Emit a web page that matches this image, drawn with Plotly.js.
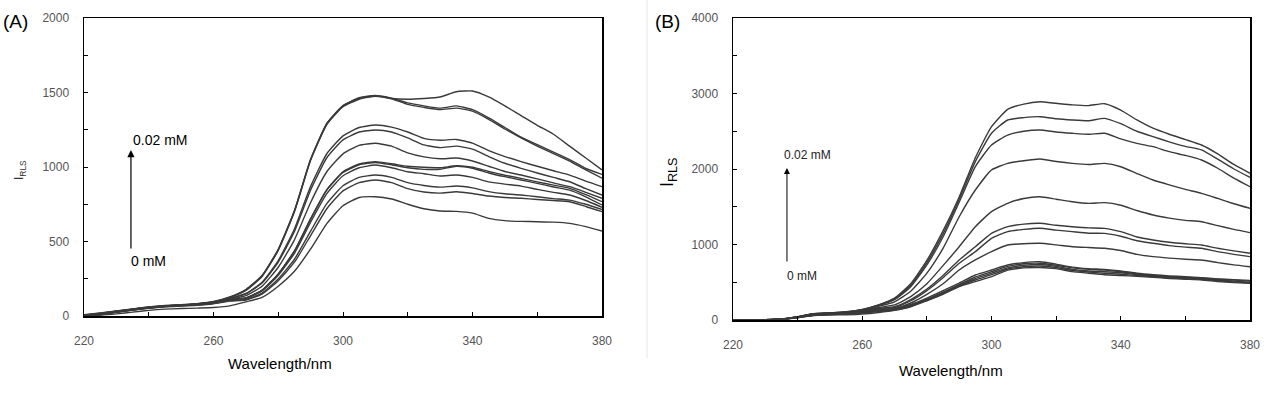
<!DOCTYPE html>
<html><head><meta charset="utf-8">
<script src="https://cdn.plot.ly/plotly-3.0.1.min.js"></script>
<style>html,body{margin:0;padding:0;background:#fff}#chart{width:1272px;height:393px}</style>
</head><body><div id="chart"></div>
<script>
// wavelength grid (nm)
const wavelength = [220,225,230,235,240,245,250,255,260,265,270,275,280,285,290,295,300,305,310,315,320,325,330,335,340,345,350,355,360,365,370,375,380];

// Panel A curves (I_RLS)
const A1  = [3,12,25,40,55,65,72,80,95,125,175,270,445,705,1050,1290,1410,1465,1480,1460,1455,1460,1470,1505,1510,1470,1410,1345,1280,1220,1140,1060,980];
const A2  = [3,13,27,42,56,66,73,82,97,128,178,272,448,708,1052,1292,1412,1460,1478,1462,1430,1410,1395,1410,1385,1330,1265,1200,1150,1100,1050,990,950];
const A3  = [2,12,26,40,54,64,71,79,94,124,172,265,440,700,1045,1285,1405,1455,1475,1458,1420,1400,1385,1395,1375,1320,1255,1195,1140,1090,1040,980,925];
const A4  = [5,15,30,45,58,68,74,80,92,118,151,227,372,584,870,1089,1209,1265,1282,1268,1235,1192,1180,1185,1160,1110,1070,1036,1005,975,946,905,868];
const A5  = [6,17,32,46,60,69,75,81,93,117,148,221,362,567,846,1062,1182,1235,1248,1235,1195,1148,1130,1140,1120,1070,1025,991,960,930,901,855,812];
const A6  = [4,14,28,43,56,66,72,78,90,113,137,200,327,511,762,968,1088,1145,1159,1140,1095,1068,1055,1060,1040,1005,970,946,920,893,868,830,790];
const A7  = [8,20,34,48,60,70,76,82,94,112,122,174,283,438,654,848,968,1020,1036,1022,1005,998,995,1008,998,970,945,924,900,878,857,815,767];
const A8  = [6,18,32,46,58,68,74,80,91,110,121,172,281,435,650,845,963,1015,1030,1015,995,984,985,1005,992,960,935,913,890,866,845,800,745];
const A9  = [5,16,30,44,56,66,72,78,89,108,119,168,273,421,630,821,941,995,1013,995,968,955,940,946,930,900,885,872,850,830,812,775,730];
const A10 = [4,14,28,42,54,63,69,75,85,103,111,154,249,381,570,754,874,930,946,930,895,876,865,872,860,835,820,812,800,788,778,750,715];
const A11 = [3,12,26,40,52,61,67,72,82,100,107,147,237,361,540,720,840,895,913,895,855,832,825,834,822,805,795,790,782,775,767,735,700];
const A12 = [0,5,14,26,38,46,50,53,57,68,95,125,200,300,450,620,740,795,800,785,750,720,705,702,690,655,640,635,633,630,622,600,570];

// Panel B curves (I_RLS)
const B1  = [0,2,5,12,45,85,95,110,140,200,290,480,790,1180,1630,2150,2560,2790,2860,2890,2870,2850,2840,2865,2780,2650,2540,2460,2390,2318,2200,2060,1943];
const B2  = [0,2,5,12,44,84,94,108,137,196,280,460,760,1140,1600,2097,2473,2649,2680,2693,2665,2649,2640,2671,2600,2500,2428,2360,2300,2252,2130,2000,1890];
const B3  = [0,2,5,12,43,82,92,106,134,192,270,440,730,1100,1560,2031,2318,2450,2500,2517,2490,2473,2460,2473,2400,2340,2296,2230,2180,2119,2010,1880,1766];
const B4  = [0,2,5,11,42,80,90,103,128,180,240,380,620,950,1368,1722,1987,2075,2110,2132,2100,2075,2060,2075,2030,1940,1854,1790,1730,1678,1610,1540,1479];
const B5  = [0,2,4,11,40,77,88,100,122,165,200,310,480,720,971,1236,1435,1545,1610,1633,1600,1567,1545,1554,1520,1450,1391,1350,1320,1302,1250,1200,1157];
const B6  = [0,2,4,11,39,75,86,97,117,155,175,270,410,590,795,971,1148,1236,1270,1281,1255,1236,1220,1214,1170,1100,1060,1030,1010,993,950,915,883];
const B7  = [0,2,4,10,38,74,85,95,114,150,165,255,390,560,751,905,1082,1170,1200,1215,1190,1170,1150,1148,1110,1050,1016,985,965,950,905,870,839];
const B8  = [0,2,4,10,37,72,83,93,110,140,150,225,340,480,662,795,905,993,1010,1016,995,971,960,950,920,870,839,820,805,795,760,730,706];
const B9  = [0,2,4,10,35,70,80,90,105,125,150,205,290,390,490,596,662,728,760,772,740,700,680,670,650,620,600,585,575,560,545,535,525];
const B10 = [0,2,4,10,34,68,78,88,102,122,140,190,275,370,470,570,640,710,745,752,725,690,670,660,640,610,590,575,565,552,540,528,515];
const B11 = [0,2,4,10,33,66,75,85,98,118,135,185,268,360,458,550,620,690,725,735,710,670,650,640,625,600,580,568,558,545,530,515,500];
const B12 = [0,2,4,10,31,63,71,80,92,112,132,180,262,350,450,530,600,675,705,715,695,655,635,620,605,590,572,560,548,538,520,505,492];
const B13 = [0,2,4,10,30,60,65,70,80,100,128,175,255,340,441,508,574,660,690,695,680,640,620,600,590,578,565,550,540,530,510,495,486];

const seriesA = [A1,A2,A3,A4,A5,A6,A7,A8,A9,A10,A11,A12];
const seriesB = [B1,B2,B3,B4,B5,B6,B7,B8,B9,B10,B11,B12,B13];

const xTicks = [220,240,260,280,300,320,340,360,380];
const xTickText = ['220','','260','','300','','340','','380'];
const yTicksA = [0,250,500,750,1000,1250,1500,1750,2000];
const yTickTextA = ['0','','500','','1000','','1500','','2000'];
const yTicksB = [0,500,1000,1500,2000,2500,3000,3500,4000];
const yTickTextB = ['0','','1000','','2000','','3000','','4000'];

const lineStyle = {color:'#3a3a3a', width:1.4, shape:'spline', smoothing:0.5};
const traces = [];
seriesA.forEach(s => traces.push({x:wavelength, y:s, type:'scatter', mode:'lines', line:lineStyle, xaxis:'x', yaxis:'y', hoverinfo:'skip'}));
seriesB.forEach(s => traces.push({x:wavelength, y:s, type:'scatter', mode:'lines', line:lineStyle, xaxis:'x2', yaxis:'y2', hoverinfo:'skip'}));

const F = '"Liberation Sans", Arial, sans-serif';
const tickFont = {family:F, size:12, color:'#555'};
function xax(domain, anchor){return {domain:domain, anchor:anchor, range:[220,380], tickvals:xTicks, ticktext:xTickText, ticks:'inside', ticklen:4, tickcolor:'#000', showline:true, linecolor:'#000', linewidth:1.5, mirror:true, showgrid:false, zeroline:false, tickfont:tickFont, ticklabelstandoff:13, fixedrange:true};}
function yax(domain, anchor, range, tv, tt){return {domain:domain, anchor:anchor, range:range, tickvals:tv, ticktext:tt, ticks:'inside', ticklen:4, tickcolor:'#000', showline:true, linecolor:'#000', linewidth:1.5, mirror:true, showgrid:false, zeroline:false, tickfont:tickFont, ticklabelstandoff:11, fixedrange:true};}

const layout = {
  width:1272, height:393, margin:{l:0,r:0,t:0,b:0}, showlegend:false,
  paper_bgcolor:'#fff', plot_bgcolor:'#fff',
  xaxis: xax([84/1272, 602/1272], 'y'),
  yaxis: yax([(393-316)/393, (393-18)/393], 'x', [0,2000], yTicksA, yTickTextA),
  xaxis2: xax([733/1272, 1250/1272], 'y2'),
  yaxis2: yax([(393-320)/393, (393-18)/393], 'x2', [0,4000], yTicksB, yTickTextB),
  shapes:[{type:'line', xref:'paper', yref:'paper', x0:647/1272, x1:647/1272, y0:(393-358)/393, y1:1, line:{color:'#e6e6e6', width:1}}],
  annotations:[
    {xref:'paper', yref:'paper', x:15/1272, y:(393-22)/393, xanchor:'center', yanchor:'middle', text:'(A)', showarrow:false, font:{family:F, size:19, color:'#000'}},
    {xref:'paper', yref:'paper', x:667/1272, y:(393-22)/393, xanchor:'center', yanchor:'middle', text:'(B)', showarrow:false, font:{family:F, size:19, color:'#000'}},
    {xref:'paper', yref:'paper', x:280/1272, y:(393-363)/393, xanchor:'center', yanchor:'middle', text:'Wavelength/nm', showarrow:false, font:{family:F, size:15, color:'#000'}},
    {xref:'paper', yref:'paper', x:951/1272, y:(393-370)/393, xanchor:'center', yanchor:'middle', text:'Wavelength/nm', showarrow:false, font:{family:F, size:15, color:'#000'}},
    {xref:'paper', yref:'paper', x:20/1272, y:(393-170)/393, xanchor:'center', yanchor:'middle', text:'I<sub>RLS</sub>', textangle:-90, showarrow:false, font:{family:F, size:12, color:'#333'}},
    {xref:'paper', yref:'paper', x:668/1272, y:(393-172)/393, xanchor:'center', yanchor:'middle', text:'I<sub>RLS</sub>', textangle:-90, showarrow:false, font:{family:F, size:18, color:'#000'}},
    // arrows
    {xref:'x', yref:'y', x:234.5, y:1114, axref:'x', ayref:'y', ax:234.5, ay:443, showarrow:true, arrowhead:2, arrowsize:1.2, arrowwidth:1.2, arrowcolor:'#000', text:''},
    {xref:'x', yref:'y', x:243.5, y:1181, xanchor:'center', text:'0.02 mM', showarrow:false, font:{family:F, size:14, color:'#000'}},
    {xref:'x', yref:'y', x:239.8, y:369, xanchor:'center', text:'0 mM', showarrow:false, font:{family:F, size:14, color:'#000'}},
    {xref:'x2', yref:'y2', x:236.7, y:2013, axref:'x2', ayref:'y2', ax:236.7, ay:755, showarrow:true, arrowhead:2, arrowsize:1.2, arrowwidth:1, arrowcolor:'#000', text:''},
    {xref:'x2', yref:'y2', x:242.9, y:2185, xanchor:'center', text:'0.02 mM', showarrow:false, font:{family:F, size:12, color:'#222'}},
    {xref:'x2', yref:'y2', x:241.4, y:583, xanchor:'center', text:'0 mM', showarrow:false, font:{family:F, size:12, color:'#222'}}
  ]
};
Plotly.newPlot('chart', traces, layout, {staticPlot:true, displayModeBar:false});
</script></body></html>
